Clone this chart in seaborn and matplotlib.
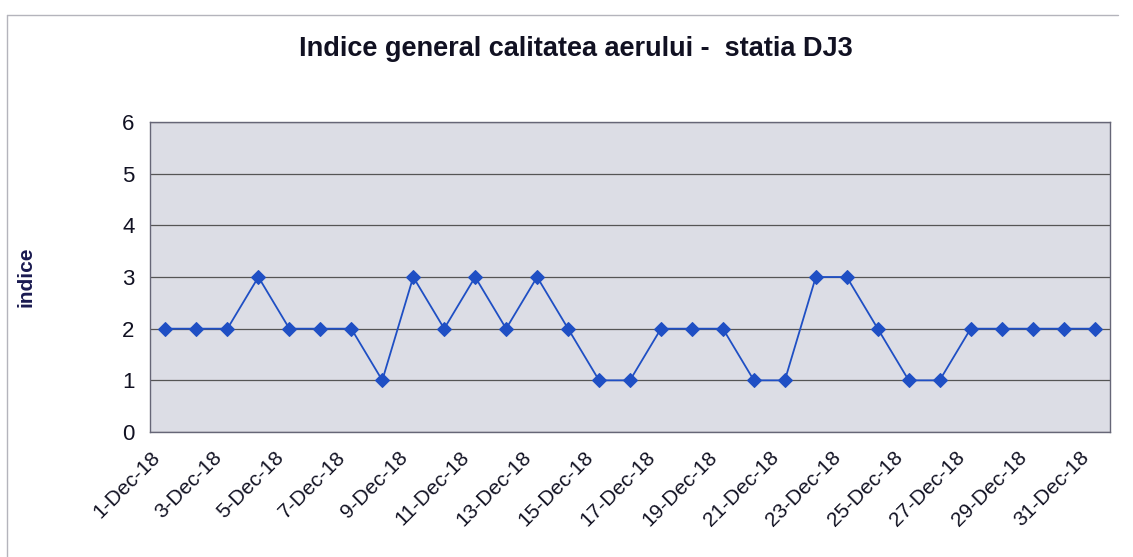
import pandas as pd
import numpy as np
import matplotlib
matplotlib.use('Agg')
import matplotlib.pyplot as plt
from matplotlib.lines import Line2D
import seaborn as sns

# daily index values, December 2018
days = list(range(1, 32))
indice = [2, 2, 2, 3, 2, 2, 2, 1, 3, 2, 3, 2, 3, 2, 1, 1, 2, 2, 2, 1, 1, 3, 3, 2, 1, 1, 2, 2, 2, 2, 2]
labels = [f"{d}-Dec-18" for d in days]

df = pd.DataFrame({'pos': np.arange(len(days)), 'indice': indice})

sns.set_style('white')
plt.rcParams['font.family'] = ['Liberation Sans', 'DejaVu Sans']

fig = plt.figure(figsize=(11.33, 5.57), dpi=100)
ax = fig.add_axes([0.1324, 0.2244, 0.8473, 0.5566])
ax.set_facecolor('#dcdde5')

sns.lineplot(data=df, x='pos', y='indice', ax=ax, color='#1f4fc4', linewidth=1.3,
             marker='D', markersize=7, markeredgecolor='#1f4fc4')

ax.set_xlim(-0.5, len(days) - 0.5)
ax.set_ylim(0, 6)
ax.set_yticks(range(0, 7))
ax.yaxis.grid(True, color='#555555', linewidth=0.9)
ax.set_axisbelow(True)

ax.set_xticks(np.arange(0, len(days), 2) - 0.5)
ax.set_xticklabels(labels[::2], rotation=45, ha='right', rotation_mode='anchor')
ax.tick_params(axis='x', direction='out', length=6, width=1, color='#666666',
               labelsize=15, pad=5, labelcolor='#111122')
ax.tick_params(axis='y', direction='out', length=5, width=1, color='#666666',
               labelsize=16, pad=6, labelcolor='#111122')

for side in ['left', 'bottom', 'top', 'right']:
    ax.spines[side].set_visible(True)
    ax.spines[side].set_color('#666677')
    ax.spines[side].set_linewidth(1)

ax.set_xlabel('')
ax.set_ylabel('indice', fontsize=15, fontweight='bold', color='#1a1a50')
ax.yaxis.set_label_coords(-0.119, 0.5)

fig.suptitle('Indice general calitatea aerului -  statia DJ3', x=0.508, y=0.935,
             fontsize=19.5, fontweight='bold', color='#111122')

# outer chart frame (top and left edges visible in the scan)
fig.add_artist(Line2D([7 / 1133, 7 / 1133], [0, 1 - 15 / 557], color='#b4b4bc', linewidth=1))
fig.add_artist(Line2D([7 / 1133, 1118 / 1133], [1 - 15 / 557, 1 - 15 / 557], color='#b4b4bc', linewidth=1))

plt.savefig('out.png', dpi=100)
plt.close()
